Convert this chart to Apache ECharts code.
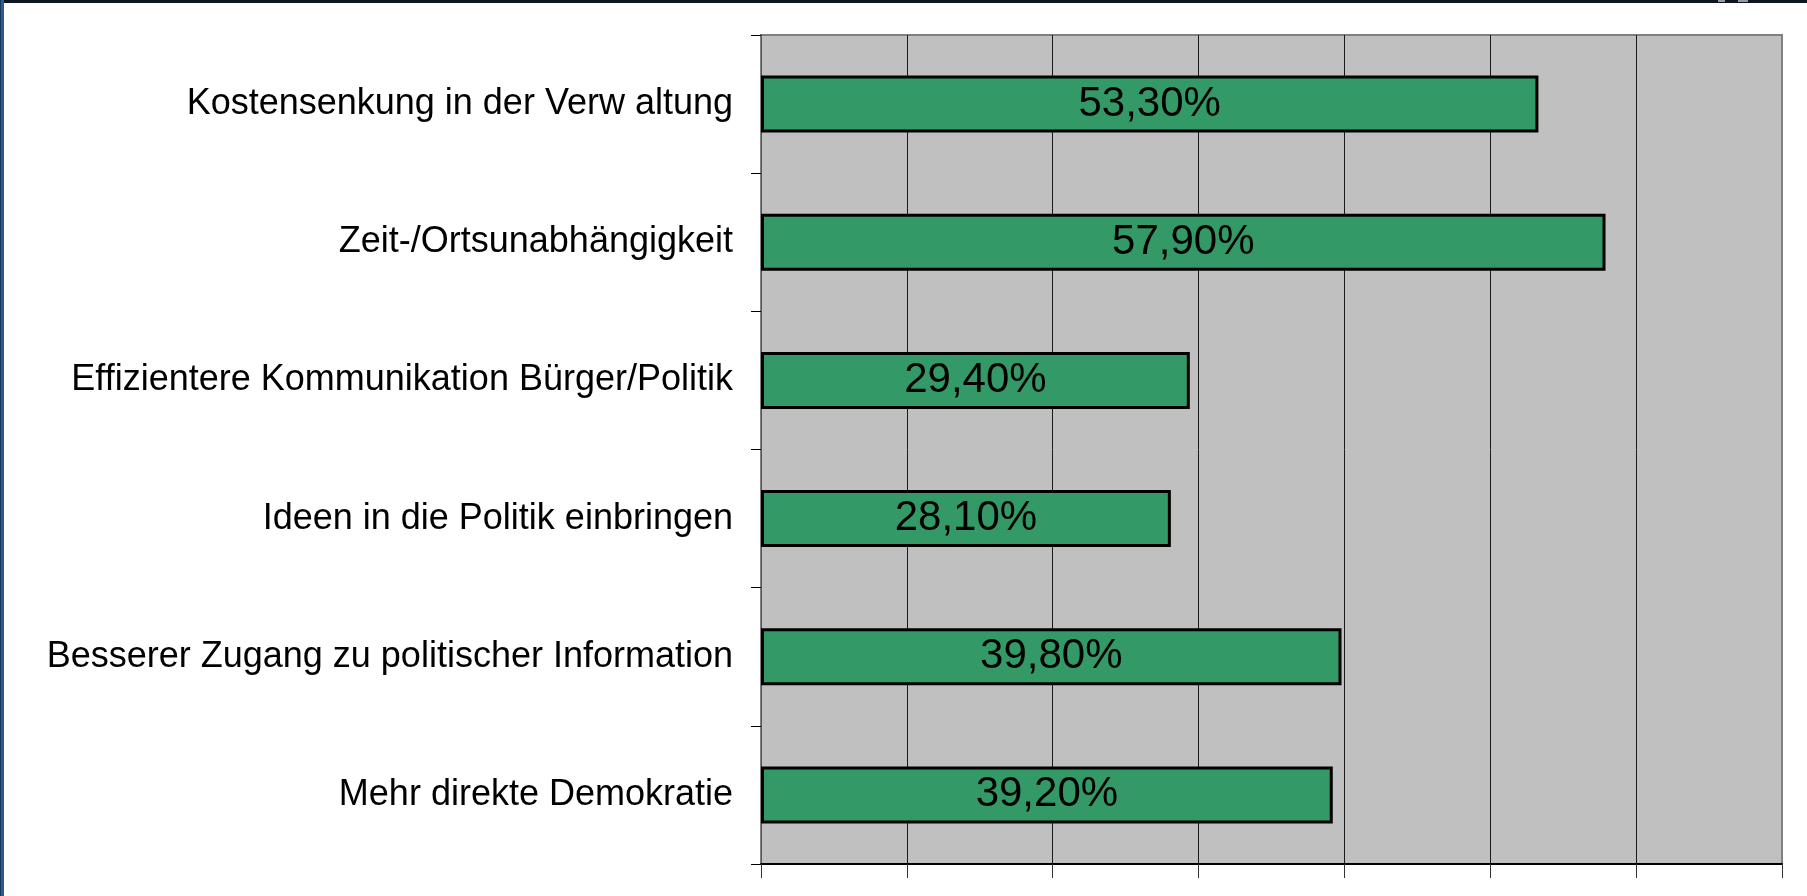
<!DOCTYPE html>
<html>
<head>
<meta charset="utf-8">
<script src="https://cdn.jsdelivr.net/npm/echarts@6/dist/echarts.min.js"></script>
<style>
  html, body { margin: 0; padding: 0; background: #fff; }
  #chart { width: 1807px; height: 896px; }
</style>
</head>
<body>
<div id="chart"></div>
<script>
// Kategorien von oben nach unten
const categories = [
    'Kostensenkung in der Verw altung',
    'Zeit-/Ortsunabhängigkeit',
    'Effizientere Kommunikation Bürger/Politik',
    'Ideen in die Politik einbringen',
    'Besserer Zugang zu politischer Information',
    'Mehr direkte Demokratie'
];
const values = [53.3, 57.9, 29.4, 28.1, 39.8, 39.2];
const axisMin = 0;
const axisMax = 70;
const axisStep = 10;

const chart = echarts.init(document.getElementById('chart'));

const option = {
    animation: false,
    textStyle: { fontFamily: 'Liberation Sans, Arial, sans-serif' },
    grid: {
        left: 761, right: 25, top: 35, bottom: 32,
        show: true,
        backgroundColor: '#C0C0C0',
        borderColor: '#808080',
        borderWidth: 2
    },
    xAxis: {
        type: 'value',
        min: axisMin, max: axisMax, interval: axisStep,
        axisLabel: { show: false },
        axisLine: { show: true, lineStyle: { color: '#000', width: 2 } },
        axisTick: { show: true, length: 14, lineStyle: { color: '#333', width: 1 } },
        splitLine: {
            show: true,
            showMinLine: false,
            showMaxLine: false,
            lineStyle: { color: '#1a1a1a', width: 1 }
        }
    },
    yAxis: {
        type: 'category',
        inverse: true,
        data: categories,
        axisLine: { show: true, lineStyle: { color: '#555', width: 1 } },
        axisTick: { show: true, length: 10, lineStyle: { color: '#000', width: 1 } },
        axisLabel: { color: '#000', fontSize: 36, margin: 28 },
        splitLine: { show: false }
    },
    series: [{
        type: 'bar',
        data: values,
        barWidth: 57,
        itemStyle: { color: '#339966', borderColor: '#000', borderWidth: 3 },
        label: {
            show: true,
            position: 'inside',
            color: '#000',
            fontSize: 42,
            formatter: p => p.value.toFixed(2).replace('.', ',') + '%'
        }
    }],
    graphic: [
        { type: 'rect', shape: { x: 0, y: 0, width: 1807, height: 3 }, style: { fill: '#0b1622' }, z: 100 },
        { type: 'rect', shape: { x: 0, y: 0, width: 4, height: 896 }, style: { fill: '#2b5b8c' }, z: 100 },
        { type: 'rect', shape: { x: 0, y: 0, width: 1, height: 896 }, style: { fill: '#1a3a5c' }, z: 101 },
        { type: 'rect', shape: { x: 1718, y: 0, width: 7, height: 2 }, style: { fill: '#9a9a9a' }, z: 102 },
        { type: 'rect', shape: { x: 1738, y: 0, width: 10, height: 2 }, style: { fill: '#9a9a9a' }, z: 102 }
    ]
};

chart.setOption(option);
</script>
</body>
</html>
